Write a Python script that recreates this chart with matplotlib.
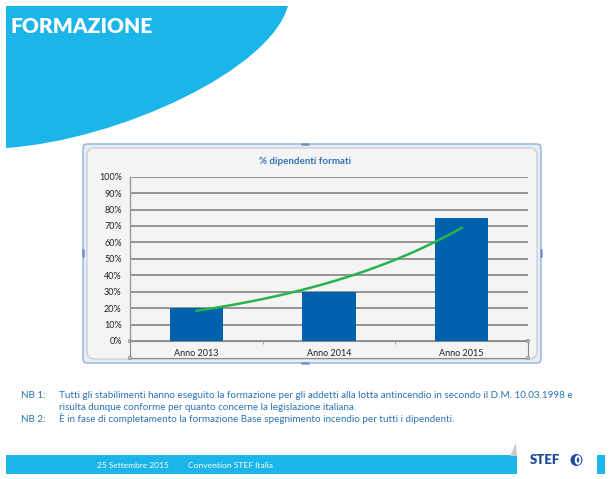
import numpy as np
import matplotlib
matplotlib.use("Agg")
import matplotlib.pyplot as plt
from matplotlib.patches import Rectangle, FancyBboxPatch, PathPatch, Circle, Ellipse, Polygon
from matplotlib.path import Path
from matplotlib.ticker import PercentFormatter

# data
years = ['Anno 2013', 'Anno 2014', 'Anno 2015']
pct = [20, 30, 75]
chart_title = '% dipendenti formati'
slide_title = 'FORMAZIONE'
notes = [
    ('NB 1:', 'Tutti gli stabilimenti hanno eseguito la formazione per gli addetti alla lotta antincendio in secondo il D.M. 10.03.1998 e'),
    ('', 'risulta dunque conforme per quanto concerne la legislazione italiana.'),
    ('NB 2:', 'È in fase di completamento la formazione Base spegnimento incendio per tutti i dipendenti.'),
]
footer_date = '25 Settembre 2015'
footer_event = 'Convention STEF Italia'

W, H = 611, 479
cyan = '#1bb5e9'
bar_blue = '#0062ac'
note_blue = '#2a72b8'

fig = plt.figure(figsize=(W / 100, H / 100), dpi=100)
fig.patch.set_facecolor('white')

# background axes in pixel coordinates
bg = fig.add_axes([0, 0, 1, 1])
bg.set_xlim(0, W)
bg.set_ylim(H, 0)
bg.axis('off')

# top curved banner
verts = [(6, 6), (288, 6), (270, 70), (120, 140), (6, 148), (6, 6)]
codes = [Path.MOVETO, Path.LINETO, Path.CURVE4, Path.CURVE4, Path.CURVE4, Path.CLOSEPOLY]
bg.add_patch(PathPatch(Path(verts, codes), facecolor=cyan, edgecolor='none'))
bg.text(10, 26, slide_title, color='white', fontsize=15, fontweight='heavy',
        family='Lato', va='center', ha='left')

# chart frame
bg.add_patch(FancyBboxPatch((83, 144), 458, 219, boxstyle='round,pad=0,rounding_size=4',
                            facecolor='#e4edf9', edgecolor='#8fb1dd', lw=1.0))
bg.add_patch(FancyBboxPatch((87, 148), 450, 211, boxstyle='round,pad=0,rounding_size=8',
                            facecolor='#f4f4f4', edgecolor='#c8c8c8', lw=0.8))
for (hx, hy) in [(305, 144), (305, 363), (83, 253), (541, 253)]:
    if hy in (144, 363):
        bg.plot([hx - 3, hx - 1, hx + 1, hx + 3], [hy] * 4, ls='none', marker='s', ms=0.8, color='#6a8fc0')
    else:
        bg.plot([hx] * 4, [hy - 3, hy - 1, hy + 1, hy + 3], ls='none', marker='s', ms=0.8, color='#6a8fc0')
bg.text(305, 162, chart_title, color='#2f72bd', fontsize=7, fontweight='bold',
        family='Lato', ha='center', va='center')

# selected category axis box
bg.add_patch(Rectangle((130, 341), 398, 17, facecolor='none', edgecolor='#8a8a8a', lw=0.8))
for (cx, cy) in [(130, 341), (528, 341), (130, 358), (528, 358)]:
    bg.add_patch(Circle((cx, cy), 1.6, facecolor='#c8c8c8', edgecolor='#8a8a8a', lw=0.6, zorder=5))

# chart axes
left, right, top, bottom = 130, 528, 176.7, 341
ax = fig.add_axes([left / W, (H - bottom) / H, (right - left) / W, (bottom - top) / H])
ax.set_facecolor('none')
x = np.arange(len(years))
ax.bar(x, pct, width=0.4, color=bar_blue, zorder=3)

# exponential trend line fitted on the bars
coef = np.polyfit(x, np.log(pct), 1)
xs = np.linspace(x[0], x[-1], 100)
ax.plot(xs, np.exp(np.polyval(coef, xs)), color='#27b34d', lw=1.8, zorder=4)

ax.set_xlim(-0.5, len(years) - 0.5)
ax.set_ylim(0, 100)
ax.set_yticks(np.arange(0, 101, 10))
ax.yaxis.set_major_formatter(PercentFormatter(decimals=0))
ax.yaxis.grid(True, color='#959595', lw=1.4, zorder=0)
ax.set_axisbelow(True)
ax.set_xticks(x)
ax.set_xticklabels(years)
ax.set_xticks(x[:-1] + 0.5, minor=True)
ax.tick_params(axis='x', which='major', length=0, pad=5.5, labelsize=6.5, colors='#222222')
ax.tick_params(axis='x', which='minor', length=2.5, color='#9a9a9a', direction='out')
ax.tick_params(axis='y', length=0, pad=6, labelsize=6.5, colors='#222222')
for lab in ax.get_xticklabels() + ax.get_yticklabels():
    lab.set_family('Lato')
for s in ['top', 'right', 'bottom']:
    ax.spines[s].set_visible(False)
ax.spines['left'].set_color('#9a9a9a')
ax.spines['left'].set_linewidth(1.0)

# notes
for i, (lab, txt) in enumerate(notes):
    y = 395 + i * 12
    if lab:
        bg.text(21, y, lab, color=note_blue, fontsize=7.1, family='Lato', va='center')
    bg.text(59, y, txt, color=note_blue, fontsize=7.1, family='Lato', va='center')

# footer band and logo
bg.add_patch(Rectangle((6, 455), 511, 19, facecolor=cyan, edgecolor='none'))
bg.add_patch(Rectangle((597, 455), 8, 19, facecolor=cyan, edgecolor='none'))
bg.add_patch(Polygon([(516, 443), (510, 456), (517, 456)], facecolor='#c9c9c9', edgecolor='none'))
bg.add_patch(Rectangle((517, 443), 80, 36, facecolor='white', edgecolor='none'))
bg.text(97, 465, footer_date, color='white', fontsize=6.0, family='Lato', va='center')
bg.text(188, 465, footer_event, color='white', fontsize=6.1, family='Lato', va='center')
bg.text(530, 460, 'STEF', color='#1c4c9c', fontsize=9.5, fontweight='heavy', family='Lato', va='center')
bg.add_patch(Circle((576.5, 460), 6, facecolor='#1c4c9c', edgecolor='none'))
bg.add_patch(Ellipse((578, 460), 4.5, 7.5, facecolor='none', edgecolor='white', lw=1.5))

fig.savefig('out.png', dpi=100)
